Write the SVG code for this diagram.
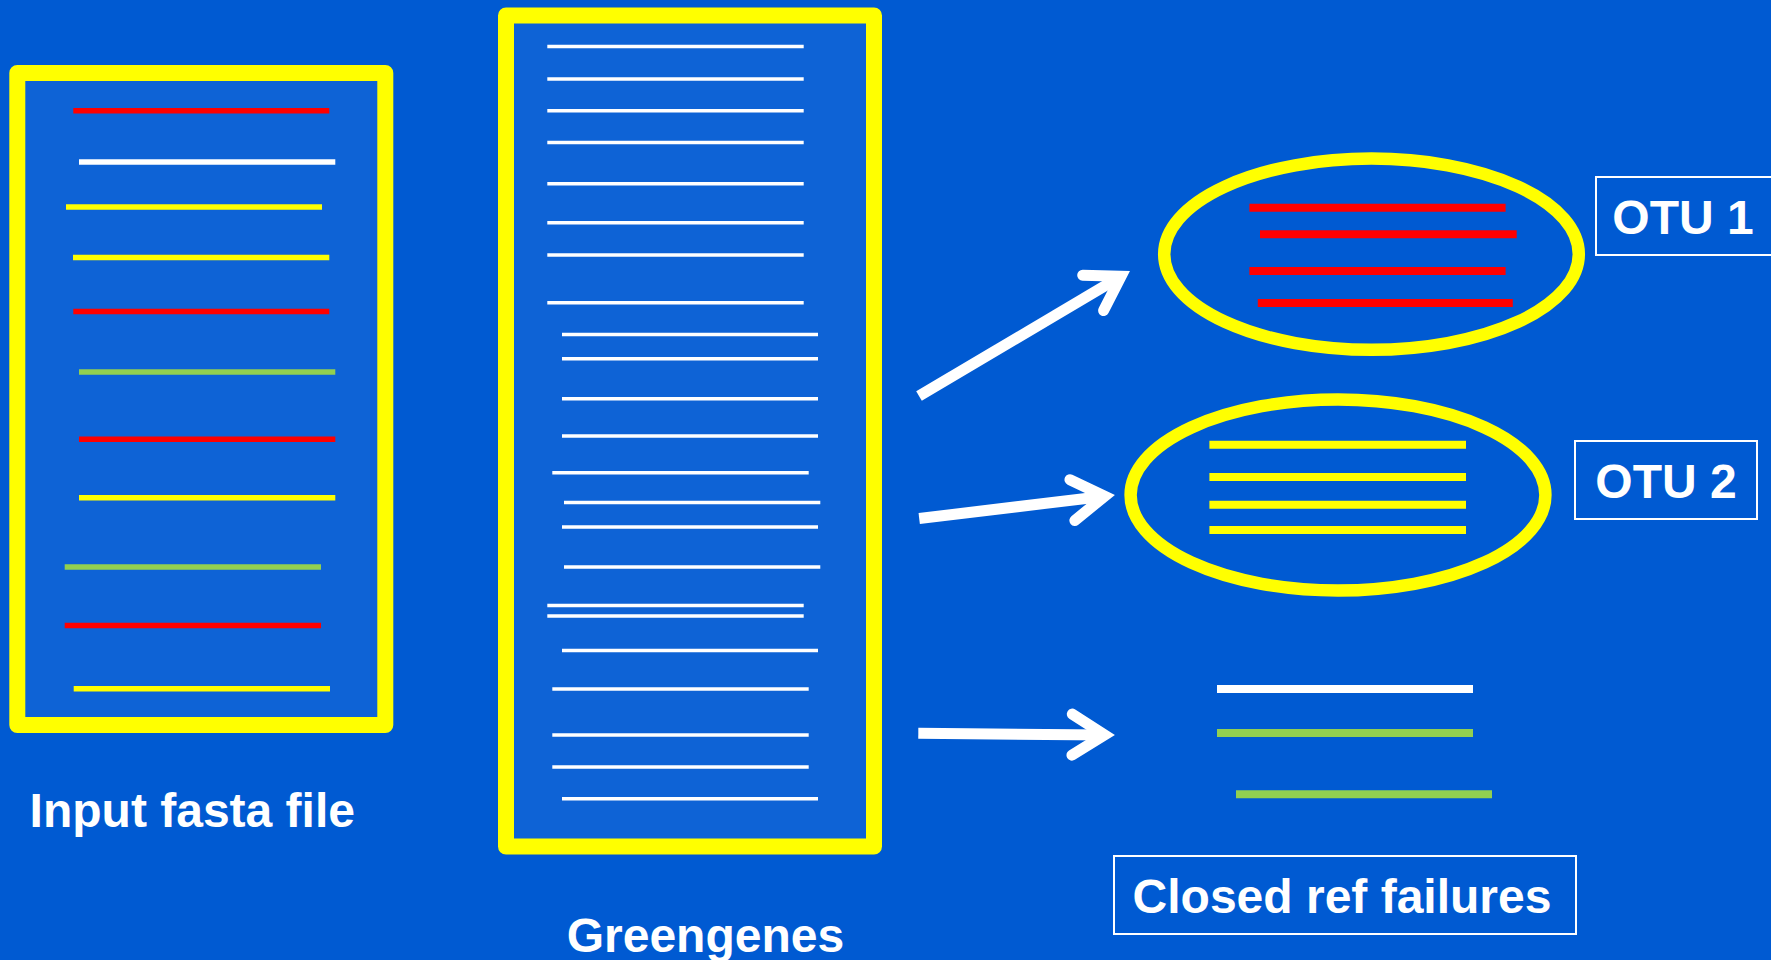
<svg xmlns="http://www.w3.org/2000/svg" width="1771" height="960" viewBox="0 0 1771 960">
  <style>
    .frame { fill: #0E63D6; stroke: #FFFF00; stroke-width: 16; stroke-linejoin: round; }
    .ring { fill: none; stroke: #FFFF00; stroke-width: 12.5; }
    .tag { fill: none; stroke: #FFFFFF; stroke-width: 2; }
    .label { font-family: "Liberation Sans", Arial, sans-serif; font-weight: bold; font-size: 48px; fill: #FFFFFF; text-anchor: middle; }
    .seq { stroke-width: 5.5; }
    .ref { stroke: #FFFFFF; stroke-width: 3.5; }
    .clu { stroke-width: 8; }
    .red { stroke: #FF0000; }
    .wht { stroke: #FFFFFF; }
    .yel { stroke: #FFFF00; }
    .grn { stroke: #92D050; }
    .shaft { fill: none; stroke: #FFFFFF; stroke-width: 11; stroke-linecap: butt; }
  </style>
  <defs>
    <marker id="chev" markerUnits="userSpaceOnUse" orient="auto" overflow="visible" markerWidth="1" markerHeight="1" refX="0" refY="0">
      <path d="M-32.5,-20.5 L0,0 L-32.5,20.5" fill="none" stroke="#FFFFFF" stroke-width="11" stroke-linecap="round" stroke-linejoin="miter"/>
    </marker>
  </defs>

  <rect x="0" y="0" width="1771" height="960" fill="#005AD2"/>

  <!-- input sequences -->
  <g id="input-fasta">
    <rect class="frame" x="17.3" y="73" width="368" height="652"/>
    <line class="seq red" x1="73.3" y1="110.7" x2="329.3" y2="110.7"/>
    <line class="seq wht" x1="79" y1="162" x2="335.3" y2="162"/>
    <line class="seq yel" x1="66" y1="207" x2="322" y2="207"/>
    <line class="seq yel" x1="73" y1="257.6" x2="329.3" y2="257.6"/>
    <line class="seq red" x1="73.3" y1="311.6" x2="329.3" y2="311.6"/>
    <line class="seq grn" x1="79" y1="371.9" x2="335.3" y2="371.9"/>
    <line class="seq red" x1="79" y1="439.3" x2="335.3" y2="439.3"/>
    <line class="seq yel" x1="79" y1="497.8" x2="335.3" y2="497.8"/>
    <line class="seq grn" x1="64.7" y1="567" x2="321" y2="567"/>
    <line class="seq red" x1="64.7" y1="625.4" x2="321" y2="625.4"/>
    <line class="seq yel" x1="73.7" y1="688.8" x2="330" y2="688.8"/>
    <text class="label" x="192.3" y="826.7">Input fasta file</text>
  </g>

  <!-- reference database -->
  <g id="greengenes">
    <rect class="frame" x="506" y="15.5" width="368" height="831"/>
    <line class="ref" x1="547.3" y1="46.6" x2="803.7" y2="46.6"/>
    <line class="ref" x1="547.3" y1="79" x2="803.7" y2="79"/>
    <line class="ref" x1="547.3" y1="110.8" x2="803.7" y2="110.8"/>
    <line class="ref" x1="547.3" y1="142.6" x2="803.7" y2="142.6"/>
    <line class="ref" x1="547.3" y1="183.8" x2="803.7" y2="183.8"/>
    <line class="ref" x1="547.3" y1="222.7" x2="803.7" y2="222.7"/>
    <line class="ref" x1="547.3" y1="255" x2="803.7" y2="255"/>
    <line class="ref" x1="547.3" y1="302.8" x2="803.7" y2="302.8"/>
    <line class="ref" x1="562" y1="334.6" x2="818" y2="334.6"/>
    <line class="ref" x1="562" y1="358.7" x2="818" y2="358.7"/>
    <line class="ref" x1="562" y1="398.8" x2="818" y2="398.8"/>
    <line class="ref" x1="562" y1="436" x2="818" y2="436"/>
    <line class="ref" x1="552.3" y1="472.8" x2="808.7" y2="472.8"/>
    <line class="ref" x1="564" y1="502.5" x2="820.3" y2="502.5"/>
    <line class="ref" x1="562" y1="527" x2="818" y2="527"/>
    <line class="ref" x1="564" y1="567" x2="820.3" y2="567"/>
    <line class="ref" x1="547.3" y1="605.6" x2="803.7" y2="605.6"/>
    <line class="ref" x1="547.3" y1="616" x2="803.7" y2="616"/>
    <line class="ref" x1="562" y1="650.6" x2="818" y2="650.6"/>
    <line class="ref" x1="552.3" y1="689" x2="808.7" y2="689"/>
    <line class="ref" x1="552.3" y1="735" x2="808.7" y2="735"/>
    <line class="ref" x1="552.3" y1="767" x2="808.7" y2="767"/>
    <line class="ref" x1="562" y1="798.7" x2="818" y2="798.7"/>
    <text class="label" x="705.4" y="951.7">Greengenes</text>
  </g>

  <!-- first cluster -->
  <g id="otu1">
    <ellipse class="ring" cx="1371.5" cy="254.2" rx="207.3" ry="95.6"/>
    <line class="clu red" x1="1249.4" y1="207.7" x2="1505.6" y2="207.7"/>
    <line class="clu red" x1="1260" y1="234.3" x2="1516.7" y2="234.3"/>
    <line class="clu red" x1="1249.4" y1="271" x2="1505.6" y2="271"/>
    <line class="clu red" x1="1257.8" y1="303" x2="1512.8" y2="303"/>
    <rect class="tag" x="1596" y="177" width="200" height="78"/>
    <text class="label" x="1683" y="234">OTU 1</text>
  </g>

  <!-- second cluster -->
  <g id="otu2">
    <ellipse class="ring" cx="1338" cy="495" rx="207.4" ry="95.5"/>
    <line class="clu yel" x1="1209.4" y1="444.7" x2="1466" y2="444.7"/>
    <line class="clu yel" x1="1209.4" y1="477" x2="1466" y2="477"/>
    <line class="clu yel" x1="1209.4" y1="504.7" x2="1466" y2="504.7"/>
    <line class="clu yel" x1="1209.4" y1="530" x2="1466" y2="530"/>
    <rect class="tag" x="1575" y="441" width="182" height="78"/>
    <text class="label" x="1666" y="497.7">OTU 2</text>
  </g>

  <!-- unmatched sequences -->
  <g id="failures">
    <line class="clu wht" x1="1217" y1="689" x2="1473" y2="689"/>
    <line class="clu grn" x1="1217" y1="733" x2="1473" y2="733"/>
    <line class="clu grn" x1="1236" y1="794.3" x2="1492" y2="794.3"/>
    <rect class="tag" x="1114" y="856" width="462" height="78"/>
    <text class="label" x="1342" y="913.3">Closed ref failures</text>
  </g>

  <!-- connectors -->
  <g id="connectors">
    <path class="shaft" d="M919,396 L1121.1,276.3" marker-end="url(#chev)"/>
    <path class="shaft" d="M919.2,518.5 L1104.7,496.2" marker-end="url(#chev)"/>
    <path class="shaft" d="M918.3,733.3 L1104.6,734.9" marker-end="url(#chev)"/>
  </g>
</svg>
